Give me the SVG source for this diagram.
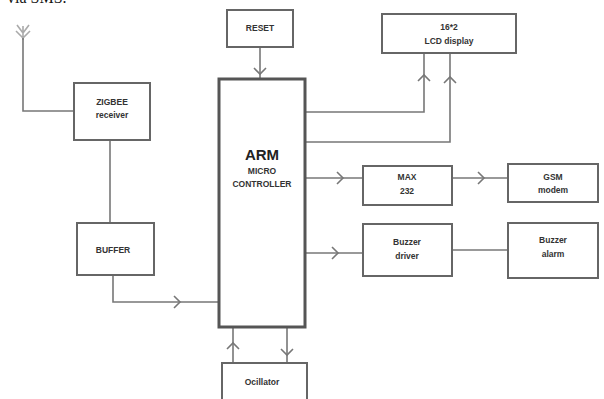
<svg xmlns="http://www.w3.org/2000/svg" xmlns:xlink="http://www.w3.org/1999/xlink" width="604" height="399" viewBox="0 0 604 399">
<style>
.box{fill:#fff;stroke:#666;stroke-width:2}
.arm{fill:#fff;stroke:#555;stroke-width:3}
.ln{fill:none;stroke:#777;stroke-width:1.6}
.ch{fill:none;stroke:#777;stroke-width:1.6}
.t{font-family:"Liberation Sans",Arial,sans-serif;font-size:8.5px;font-weight:bold;fill:#333;text-anchor:middle}
.big{font-size:15px;fill:#222}
.cap{font-family:"Liberation Serif","Times New Roman",serif;font-size:16px;fill:#111}
</style>
<defs>
<path id="chev" d="M-4,-6 L2,0 L-4,6"/>
</defs>
<rect width="604" height="399" fill="#fff"/>
<text class="cap" x="7" y="3">via SMS.</text>
<g id="antenna" class="ln" stroke="#999">
<path d="M23,26 L23,40 M23,33 L17,25 M23,33 L29,25 M23,38 L16,31 M23,38 L30,31" style="stroke:#aaa"/>
</g>
<g id="connectors">
<path class="ln" d="M23,38 L23,111 L74,111"/>
<path class="ln" d="M110,140 L110,223"/>
<path class="ln" d="M113,275 L113,302 L219,302"/>
<use href="#chev" class="ch" transform="translate(178,302)"/>
<path class="ln" d="M260,47 L260,79"/>
<use href="#chev" class="ch" transform="translate(260,72) rotate(90)"/>
<path class="ln" d="M305,112 L424,112 L424,53"/>
<use href="#chev" class="ch" transform="translate(424,77) rotate(-90)"/>
<path class="ln" d="M305,142 L450,142 L450,53"/>
<use href="#chev" class="ch" transform="translate(450,79) rotate(-90)"/>
<path class="ln" d="M305,178 L363,178"/>
<use href="#chev" class="ch" transform="translate(341,178)"/>
<path class="ln" d="M452,178 L508,178"/>
<use href="#chev" class="ch" transform="translate(482,178)"/>
<path class="ln" d="M305,253 L363,253"/>
<use href="#chev" class="ch" transform="translate(336,253)"/>
<path class="ln" d="M452,250 L508,250"/>
<path class="ln" d="M233,363 L233,327"/>
<use href="#chev" class="ch" transform="translate(233,345) rotate(-90)"/>
<path class="ln" d="M287,327 L287,363"/>
<use href="#chev" class="ch" transform="translate(287,353) rotate(90)"/>
</g>
<g id="zigbee"><rect class="box" x="74" y="83" width="76" height="57"/>
<text class="t" x="112" y="105">ZIGBEE</text><text class="t" x="112" y="118">receiver</text></g>
<g id="buffer"><rect class="box" x="77" y="223" width="77" height="52"/>
<text class="t" x="113" y="253">BUFFER</text></g>
<g id="reset"><rect class="box" x="227" y="10" width="66" height="37"/>
<text class="t" x="260" y="31">RESET</text></g>
<g id="arm"><rect class="arm" x="219" y="79" width="86" height="248"/>
<text class="t big" x="262" y="160">ARM</text>
<text class="t" x="262" y="174">MICRO</text>
<text class="t" x="262" y="187">CONTROLLER</text></g>
<g id="lcd"><rect class="box" x="382" y="14" width="134" height="39"/>
<text class="t" x="449" y="30">16*2</text><text class="t" x="449" y="44">LCD display</text></g>
<g id="max232"><rect class="box" x="363" y="166" width="89" height="39"/>
<text class="t" x="407" y="180">MAX</text><text class="t" x="407" y="194">232</text></g>
<g id="gsm"><rect class="box" x="508" y="164" width="90" height="38"/>
<text class="t" x="553" y="180">GSM</text><text class="t" x="553" y="193">modem</text></g>
<g id="buzzerdriver"><rect class="box" x="363" y="224" width="89" height="52"/>
<text class="t" x="407" y="245">Buzzer</text><text class="t" x="407" y="259">driver</text></g>
<g id="buzzeralarm"><rect class="box" x="508" y="223" width="90" height="55"/>
<text class="t" x="553" y="243">Buzzer</text><text class="t" x="553" y="257">alarm</text></g>
<g id="oscillator"><rect class="box" x="222" y="363" width="85" height="40"/>
<text class="t" x="262" y="385">Ocillator</text></g>
</svg>
